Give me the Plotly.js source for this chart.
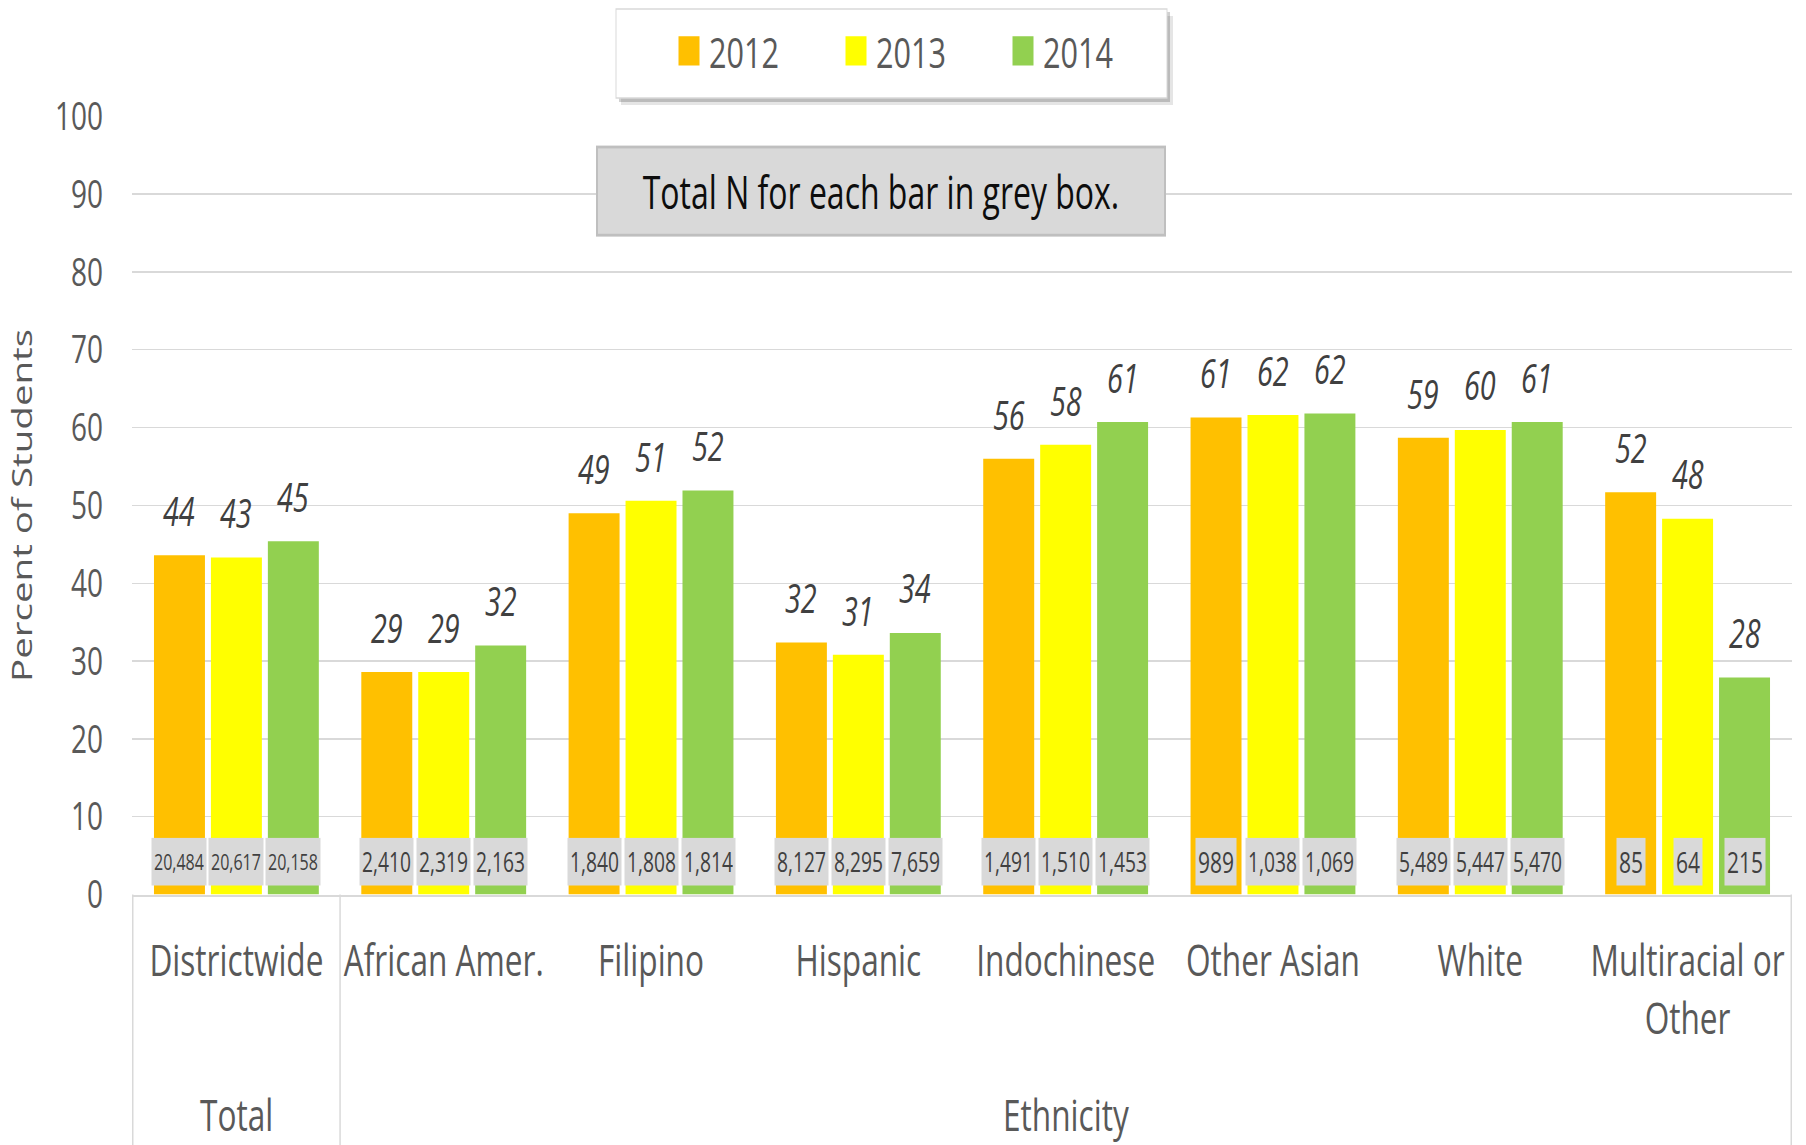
<!DOCTYPE html>
<html>
<head>
<meta charset="utf-8">
<script src="https://cdn.plot.ly/plotly-3.0.1.min.js"></script>
<style>
  html, body { margin: 0; padding: 0; background: #ffffff; overflow: hidden; }
  #wrap { width: 1806px; height: 1145px; overflow: hidden; }
  #chart { width: 1806px; height: 818px; transform: scaleY(1.4); transform-origin: 0 0; }
</style>
</head>
<body>
<div id="wrap"><div id="chart"></div></div>
<script>
// ---------------- DATA ----------------
const categories = ['Districtwide', 'African Amer.', 'Filipino', 'Hispanic', 'Indochinese', 'Other Asian', 'White', 'Multiracial or Other'];
const tickLabels = ['Districtwide', 'African Amer.', 'Filipino', 'Hispanic', 'Indochinese', 'Other Asian', 'White', 'Multiracial or<br>Other'];
const categoryGroups = ['Total', 'Ethnicity', 'Ethnicity', 'Ethnicity', 'Ethnicity', 'Ethnicity', 'Ethnicity', 'Ethnicity'];
const seriesNames = ['2012', '2013', '2014'];
const pct2012 = [43.6, 28.6, 49.0, 32.4, 56.0, 61.3, 58.7, 51.7];
const pct2013 = [43.3, 28.6, 50.6, 30.8, 57.8, 61.6, 59.7, 48.3];
const pct2014 = [45.4, 32.0, 51.9, 33.6, 60.7, 61.8, 60.7, 27.9];
const n2012 = [20484, 2410, 1840, 8127, 1491, 989, 5489, 85];
const n2013 = [20617, 2319, 1808, 8295, 1510, 1038, 5447, 64];
const n2014 = [20158, 2163, 1814, 7659, 1453, 1069, 5470, 215];
const yTickVals = [0, 10, 20, 30, 40, 50, 60, 70, 80, 90, 100];
const noteText = 'Total N for each bar in grey box.';
const yTitle = 'Percent of Students';

// ---------------- STYLE / LAYOUT CONSTANTS ----------------
const S = 1.4;              // vertical stretch of the picture
const W = 1806, H = 818;
const M = { l: 132, r: 14, t: 83, b: 179 };
const plotW = W - M.l - M.r, plotH = H - M.t - M.b;
const BARGAP = 0.176, GROUPGAP = 0.105;
const colors = ['#FFC000', '#FFFF00', '#92D050'];
const FONT = '"Open Sans", "DejaVu Sans", sans-serif';
const grey = '#595959', dark = '#404040', lineGrey = '#d9d9d9';

const pctSeries = [pct2012, pct2013, pct2014];
const nSeries = [n2012, n2013, n2014];
const slot = plotW / categories.length * (1 - BARGAP) / seriesNames.length;

// pixel (of final picture) -> paper / container
const px = xf => (xf - M.l) / plotW;
const py = yf => 1 - (yf / S - M.t) / plotH;
const cx = xf => xf / W;
const cy = yf => 1 - (yf / S) / H;

// ---------------- TRACES ----------------
const traces = [];
seriesNames.forEach((name, s) => {
  traces.push({
    type: 'bar', name: name, x: categories, y: pctSeries[s],
    marker: { color: colors[s] }, showlegend: false, legendgroup: name,
    hoverinfo: 'skip'
  });
});
// legend-only entries (bigger square keys)
seriesNames.forEach((name, s) => {
  traces.push({
    type: 'scatter', mode: 'markers', name: name, x: [null], y: [null],
    marker: { symbol: 'square', size: 16, color: colors[s], line: { color: colors[s], width: 5 } },
    legendgroup: name, showlegend: true, hoverinfo: 'skip'
  });
});

// ---------------- ANNOTATIONS ----------------
const annotations = [];
// value labels
seriesNames.forEach((name, s) => {
  categories.forEach((c, i) => {
    const v = pctSeries[s][i];
    annotations.push({
      x: c, y: v, xref: 'x', yref: 'y', xshift: (s - 1) * slot, yshift: 11,
      yanchor: 'bottom', xanchor: 'center', showarrow: false,
      text: String(Math.round(v)),
      font: { family: FONT, size: 28.8, color: dark, style: 'italic' }
    });
  });
});
// N boxes (font shrinks for long numbers so each fits over its own bar)
categories.forEach((c, i) => {
  seriesNames.forEach((name, s) => {
    const txt = nSeries[s][i].toLocaleString('en-US');
    const est = txt.length * 0.53;                  // approx width in em
    const size = Math.min(21, (slot - 6) / est);
    annotations.push({
      x: c, y: 4.3, xref: 'x', yref: 'y', xshift: (s - 1) * slot,
      yanchor: 'middle', xanchor: 'center', showarrow: false,
      text: txt, bgcolor: '#d9d9d9', borderpad: 2, height: 29,
      font: { family: FONT, size: size, color: dark }
    });
  });
});
// group labels + dividers
const groups = [];
categoryGroups.forEach((g, i) => {
  let last = groups[groups.length - 1];
  if (!last || last.name !== g) { last = { name: g, idx: [] }; groups.push(last); }
  last.idx.push(i);
});
const shapes = [];
groups.forEach(g => {
  const mid = (g.idx[0] + g.idx[g.idx.length - 1]) / 2;
  annotations.push({
    x: mid, y: py(1113), xref: 'x', yref: 'paper', yanchor: 'middle', xanchor: 'center',
    showarrow: false, text: g.name, font: { family: FONT, size: 31.6, color: grey }
  });
  shapes.push({ type: 'line', xref: 'x', yref: 'paper', x0: g.idx[0] - 0.5, x1: g.idx[0] - 0.5,
    y0: 0, y1: py(1160), line: { color: lineGrey, width: 1.5 }, layer: 'above' });
});
shapes.push({ type: 'line', xref: 'x', yref: 'paper', x0: categories.length - 0.5, x1: categories.length - 0.5,
  y0: 0, y1: py(1160), line: { color: lineGrey, width: 1.5 }, layer: 'above' });

// legend frame with shadow
shapes.push({ type: 'rect', xref: 'paper', yref: 'paper', x0: px(621), x1: px(1173), y0: py(16), y1: py(105),
  fillcolor: 'rgba(0,0,0,0.10)', line: { width: 0 }, layer: 'above' });
shapes.push({ type: 'rect', xref: 'paper', yref: 'paper', x0: px(619), x1: px(1170), y0: py(12), y1: py(102),
  fillcolor: 'rgba(0,0,0,0.18)', line: { width: 0 }, layer: 'above' });
shapes.push({ type: 'rect', xref: 'paper', yref: 'paper', x0: px(616), x1: px(1167), y0: py(9), y1: py(98),
  fillcolor: '#ffffff', line: { color: lineGrey, width: 1 }, layer: 'above' });

// note box
annotations.push({
  x: px(880.5), y: py(190.6), xref: 'paper', yref: 'paper', xanchor: 'center', yanchor: 'middle',
  showarrow: false, text: noteText, width: 566, height: 61, borderpad: 0,
  bgcolor: '#d9d9d9', bordercolor: '#bfbfbf', borderwidth: 2,
  font: { family: FONT, size: 32, color: '#0d0d0d' }
});

// ---------------- LAYOUT ----------------
const layout = {
  width: W, height: H,
  margin: M,
  paper_bgcolor: '#ffffff', plot_bgcolor: '#ffffff',
  barmode: 'group', bargap: BARGAP, bargroupgap: GROUPGAP,
  font: { family: FONT, color: grey },
  showlegend: true,
  legend: {
    orientation: 'h', xref: 'container', yref: 'container',
    x: cx(669), xanchor: 'left', y: cy(51), yanchor: 'middle',
    bgcolor: 'rgba(0,0,0,0)', borderwidth: 0, entrywidthmode: 'pixels', entrywidth: 122,
    font: { family: FONT, size: 30.6, color: grey }, traceorder: 'normal'
  },
  xaxis: {
    type: 'category', categoryorder: 'array', categoryarray: categories,
    tickvals: categories, ticktext: tickLabels,
    showline: true, linecolor: lineGrey, linewidth: 1.5, ticks: '', showgrid: false,
    ticklabelstandoff: 19, tickfont: { family: FONT, size: 31.6, color: grey },
    fixedrange: true, automargin: false
  },
  yaxis: {
    range: [0, 100], tickvals: yTickVals, ticks: '', showline: false, zeroline: false,
    showgrid: true, gridcolor: lineGrey, gridwidth: 1,
    ticklabelstandoff: 28, tickfont: { family: FONT, size: 28, color: grey },
    title: { text: yTitle, font: { family: FONT, size: 27.5, color: grey }, standoff: 14 },
    fixedrange: true, automargin: false
  },
  annotations: annotations,
  shapes: shapes
};

Plotly.newPlot('chart', traces, layout, { staticPlot: true, displayModeBar: false });
</script>
</body>
</html>
